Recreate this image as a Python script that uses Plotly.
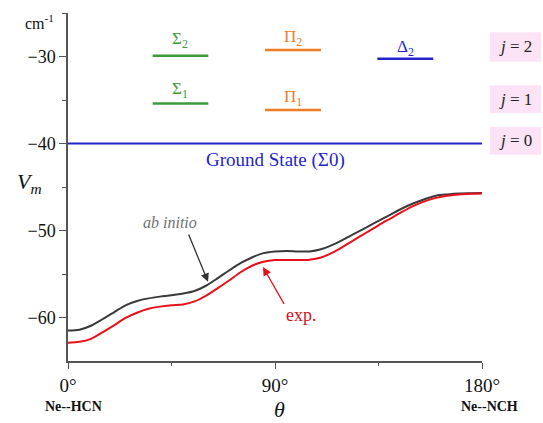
import plotly.graph_objects as go

# ---------------- data ----------------
theta = [0, 5, 10, 15, 20, 25, 30, 35, 40, 45, 50, 55, 60, 65, 70, 75, 80, 85, 90,
         95, 100, 105, 110, 115, 120, 125, 130, 135, 140, 145, 150, 155, 160, 165, 170, 175, 180]
v_ab_initio = [-61.5, -61.4, -60.95, -60.2, -59.4, -58.6, -58.1, -57.8, -57.6, -57.45,
               -57.25, -56.95, -56.35, -55.5, -54.6, -53.75, -53.1, -52.6, -52.4,
               -52.35, -52.4, -52.4, -52.15, -51.65, -51.0, -50.3, -49.6, -48.9, -48.2,
               -47.5, -46.9, -46.4, -46.0, -45.85, -45.75, -45.72, -45.7]
v_exp = [-62.9, -62.8, -62.45, -61.7, -60.9, -60.05, -59.45, -59.0, -58.75, -58.6,
         -58.5, -58.15, -57.5, -56.65, -55.75, -54.8, -54.05, -53.6, -53.4,
         -53.4, -53.4, -53.35, -53.1, -52.55, -51.8, -51.0, -50.2, -49.4, -48.65,
         -47.9, -47.2, -46.65, -46.25, -46.0, -45.85, -45.78, -45.75]

level_names = ["Σ<sub>2</sub>", "Σ<sub>1</sub>", "Π<sub>2</sub>", "Π<sub>1</sub>", "Δ<sub>2</sub>"]
level_energy = [-29.9, -35.4, -29.25, -36.15, -30.25]
ground_energy = -40.0
ground_label = "Ground State (Σ0)"

j_labels = ["<i>j</i> = 2", "<i>j</i> = 1", "<i>j</i> = 0"]
y_ticks = [-30, -40, -50, -60]
y_ticktext = ["−30", "−40", "−50", "−60"]
y_minor = [-25, -35, -45, -55]
x_ticks = [0, 90, 180]
x_ticktext = ["0°", "90°", "180°"]
x_minor = [45, 135]

# ---------------- styling / placement ----------------
FONT = "Liberation Serif, Times New Roman, serif"
level_colors = ["#3c9a3c", "#3c9a3c", "#f07c24", "#f07c24", "#2424cc"]
level_span = [(36.8, 61), (36.8, 61), (85.7, 110), (85.7, 110), (134.5, 158.8)]
label_dy = [1.8, 1.55, 1.35, 1.35, 1.25]
j_boxes = [(-27.2, -30.6), (-33.3, -36.5), (-38.1, -41.3)]

fig = go.Figure()

fig.add_trace(go.Scatter(x=theta, y=v_ab_initio, mode="lines",
                         line=dict(color="#3a3a3a", width=2, shape="spline", smoothing=0.8),
                         hoverinfo="skip", showlegend=False))
fig.add_trace(go.Scatter(x=theta, y=v_exp, mode="lines",
                         line=dict(color="#e8101a", width=2, shape="spline", smoothing=0.8),
                         hoverinfo="skip", showlegend=False))

# ground state line
fig.add_trace(go.Scatter(x=[x_ticks[0], x_ticks[-1]], y=[ground_energy, ground_energy], mode="lines",
                         line=dict(color="#2424cc", width=2.2), hoverinfo="skip", showlegend=False))

# excited levels
for name, e, col, (a, b), dy in zip(level_names, level_energy, level_colors, level_span, label_dy):
    fig.add_trace(go.Scatter(x=[a, b], y=[e, e], mode="lines",
                             line=dict(color=col, width=2.5), hoverinfo="skip", showlegend=False))
    fig.add_annotation(x=(a + b) / 2, y=e + dy, text=name, showarrow=False,
                       xanchor="center", yanchor="middle",
                       font=dict(family=FONT, size=17, color=col))

fig.add_annotation(x=90, y=ground_energy - 1.9, text=ground_label, showarrow=False,
                   xanchor="center", yanchor="middle",
                   font=dict(family=FONT, size=19, color="#2424cc"))

# j boxes
for lab, (y0, y1) in zip(j_labels, j_boxes):
    fig.add_shape(type="rect", xref="paper", yref="y", x0=1.019, x1=1.143, y0=y0, y1=y1,
                  fillcolor="#fce4f6", line=dict(width=0), layer="below")
    fig.add_annotation(xref="paper", yref="y", x=1.081, y=(y0 + y1) / 2, text=lab,
                       showarrow=False, xanchor="center", yanchor="middle",
                       font=dict(family=FONT, size=17, color="#222"))

# curve annotations
fig.add_annotation(x=44.3, y=-49.1, text="<i>ab initio</i>", showarrow=False,
                   xanchor="center", yanchor="middle",
                   font=dict(family=FONT, size=16, color="#707070"))
fig.add_annotation(x=60.9, y=-55.9, ax=52.2, ay=-50.3, axref="x", ayref="y", text="",
                   showarrow=True, arrowhead=2, arrowsize=1.3, arrowwidth=1.3, arrowcolor="#333")
fig.add_annotation(x=101.6, y=-59.7, text="exp.", showarrow=False,
                   xanchor="center", yanchor="middle",
                   font=dict(family=FONT, size=18, color="#d8101a"))
fig.add_annotation(x=84.8, y=-54.2, ax=94.3, ay=-58.6, axref="x", ayref="y", text="",
                   showarrow=True, arrowhead=2, arrowsize=1.3, arrowwidth=1.3, arrowcolor="#e8101a")

# axis labels
fig.add_annotation(xref="paper", yref="y", x=-0.092, y=-44.5, text="<i>V</i><sub><i>m</i></sub>",
                   showarrow=False, xanchor="center", yanchor="middle",
                   font=dict(family=FONT, size=22, color="#111"))
fig.add_annotation(xref="paper", yref="y", x=-0.068, y=-26.0, text="cm<sup>-1</sup>",
                   showarrow=False, xanchor="center", yanchor="middle",
                   font=dict(family=FONT, size=16, color="#111"))
fig.add_annotation(xref="paper", yref="paper", x=0.512, y=-0.14, text="<i>θ</i>", showarrow=False,
                   xanchor="center", yanchor="middle",
                   font=dict(family=FONT, size=22, color="#111"))
fig.add_annotation(xref="paper", yref="paper", x=0.013, y=-0.132, text="<b>Ne--HCN</b>", showarrow=False,
                   xanchor="center", yanchor="middle",
                   font=dict(family=FONT, size=14, color="#111"))
fig.add_annotation(xref="paper", yref="paper", x=1.019, y=-0.131, text="<b>Ne--NCH</b>", showarrow=False,
                   xanchor="center", yanchor="middle",
                   font=dict(family=FONT, size=14, color="#111"))

fig.update_layout(
    width=543, height=423,
    margin=dict(l=68, r=61, t=13, b=62),
    paper_bgcolor="white", plot_bgcolor="white",
    showlegend=False,
    font=dict(family=FONT, color="#111"),
    xaxis=dict(range=[0, 180], tickvals=x_ticks, ticktext=x_ticktext,
               showgrid=False, zeroline=False, showline=True, linecolor="#555", linewidth=1.5,
               ticks="outside", ticklen=6, tickcolor="#555", tickwidth=1.2,
               tickfont=dict(family=FONT, size=19, color="#111"),
               minor=dict(tickvals=x_minor, ticks="outside", ticklen=3, tickcolor="#555", tickwidth=1.2),
               fixedrange=True),
    yaxis=dict(range=[-65, -25], tickvals=y_ticks, ticktext=y_ticktext,
               showgrid=False, zeroline=False, showline=True, linecolor="#555", linewidth=1.5,
               ticks="outside", ticklen=7, tickcolor="#555", tickwidth=1.2,
               tickfont=dict(family=FONT, size=18, color="#111"),
               minor=dict(tickvals=y_minor, ticks="outside", ticklen=4, tickcolor="#555", tickwidth=1.2),
               fixedrange=True),
)

fig.write_html("out.html", config={"displayModeBar": False},
               post_script="document.body.style.margin='0';document.body.style.overflow='hidden';")
